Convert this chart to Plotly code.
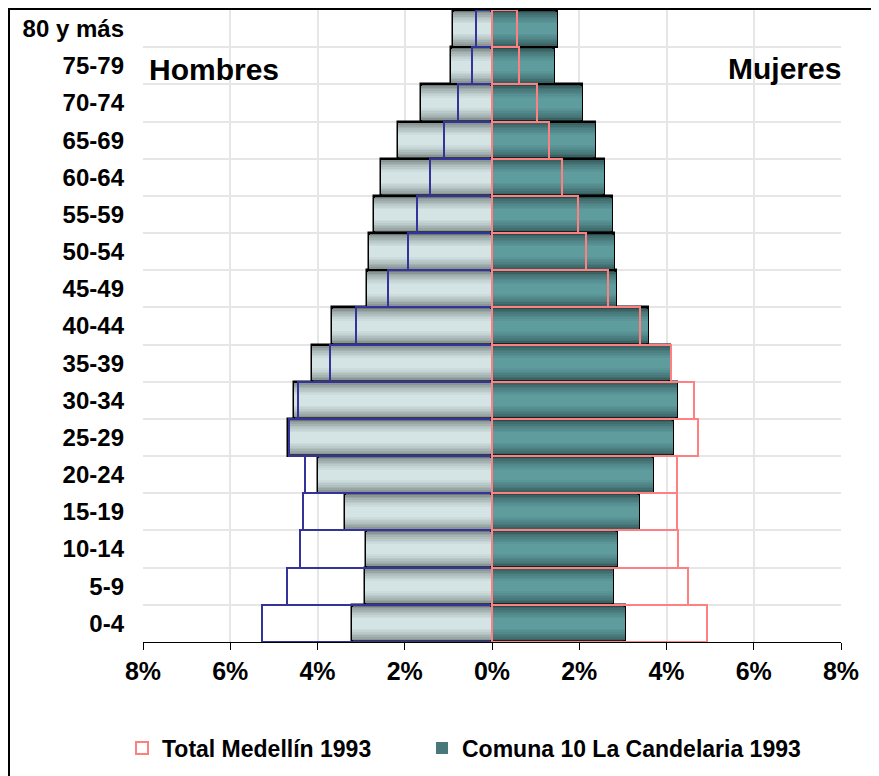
import plotly.graph_objects as go

# ---------------- data (percent of population) ----------------
ages = ["0-4", "5-9", "10-14", "15-19", "20-24", "25-29", "30-34", "35-39",
        "40-44", "45-49", "50-54", "55-59", "60-64", "65-69", "70-74",
        "75-79", "80 y más"]

comuna_hombres = [3.21, 2.92, 2.88, 3.36, 3.99, 4.67, 4.53, 4.13, 3.66,
                  2.86, 2.83, 2.71, 2.55, 2.16, 1.62, 0.95, 0.90]
comuna_mujeres = [3.05, 2.78, 2.87, 3.38, 3.70, 4.15, 4.25, 4.07, 3.57,
                  2.84, 2.80, 2.76, 2.57, 2.35, 2.07, 1.41, 1.50]
medellin_hombres = [5.28, 4.70, 4.41, 4.34, 4.29, 4.65, 4.45, 3.72, 3.12,
                    2.39, 1.93, 1.73, 1.41, 1.09, 0.77, 0.45, 0.36]
medellin_mujeres = [4.93, 4.50, 4.26, 4.24, 4.25, 4.73, 4.64, 4.11, 3.40,
                    2.66, 2.16, 1.96, 1.61, 1.30, 1.02, 0.63, 0.58]

tick_vals = [-8, -6, -4, -2, 0, 2, 4, 6, 8]
tick_text = ["8%", "6%", "4%", "2%", "0%", "2%", "4%", "6%", "8%"]

serie_medellin = "Total Medellín 1993"
serie_comuna = "Comuna 10 La Candelaria 1993"

# ---------------- styling ----------------
# the page body has an 8px margin, so the figure is sized to fit the window
W, H = 871, 768
ML, MR, MT, MB = 135, 38, 2, 134
PW, PH = W - ML - MR, H - MT - MB
FONT = "Liberation Sans, Arial, sans-serif"


def px_x(p):
    return (p - ML) / PW


def px_y(p):
    return (H - MB - p) / PH


def mix(c1, c2, t):
    a = [int(c1[i:i + 2], 16) for i in (1, 3, 5)]
    b = [int(c2[i:i + 2], 16) for i in (1, 3, 5)]
    return "rgb(%d,%d,%d)" % tuple(round(a[k] + (b[k] - a[k]) * t) for k in range(3))


men_edge, men_center = "#6c7676", "#d4e4e4"
wom_edge, wom_center = "#2c4a4b", "#5e9c9e"

neg_comuna_h = [-v for v in comuna_hombres]
neg_medellin_h = [-v for v in medellin_hombres]

fig = go.Figure()

N = 9
for i in range(N):
    f = i / (N - 1)
    width = 1.0 - 0.72 * f
    t = f ** 0.6
    outer = (i == 0)
    line = dict(color="black", width=2.5) if outer else dict(width=0)
    fig.add_trace(go.Bar(
        y=ages, x=neg_comuna_h, orientation="h", width=width,
        marker=dict(color=mix(men_edge, men_center, t), line=line),
        showlegend=False, hoverinfo="skip"))
    fig.add_trace(go.Bar(
        y=ages, x=comuna_mujeres, orientation="h", width=width,
        marker=dict(color=mix(wom_edge, wom_center, t), line=line),
        name=serie_comuna, legend="legend2",
        showlegend=(i == 3), hoverinfo="skip"))

fig.add_trace(go.Bar(
    y=ages, x=neg_medellin_h, orientation="h", width=1.0,
    marker=dict(color="rgba(0,0,0,0)", line=dict(color="#333399", width=2)),
    showlegend=False, hoverinfo="skip"))
fig.add_trace(go.Bar(
    y=ages, x=medellin_mujeres, orientation="h", width=1.0,
    marker=dict(color="rgba(0,0,0,0)", line=dict(color="#ff8080", width=2)),
    name=serie_medellin, legend="legend", showlegend=True, hoverinfo="skip"))

legend_style = dict(orientation="h", xanchor="left", yanchor="middle",
                    font=dict(size=23, weight="bold"),
                    bgcolor="rgba(0,0,0,0)")

fig.update_layout(
    width=W, height=H,
    margin=dict(l=ML, r=MR, t=MT, b=MB, autoexpand=False),
    barmode="overlay", bargap=0,
    paper_bgcolor="white", plot_bgcolor="white",
    font=dict(family=FONT, size=24, color="black", weight="bold"),
    xaxis=dict(range=[-8, 8], tickvals=tick_vals, ticktext=tick_text,
               automargin=False,
               showgrid=True, gridcolor="#e6e6e6", gridwidth=2,
               zeroline=True, zerolinecolor="#5a3a44", zerolinewidth=1,
               showline=True, linecolor="black", linewidth=1,
               ticks="outside", ticklen=7, tickcolor="black", tickwidth=1,
               ticklabelstandoff=0,
               tickfont=dict(size=25, weight="bold")),
    yaxis=dict(type="category", categoryorder="array", categoryarray=ages,
               automargin=False,
               tickson="boundaries", showgrid=True, gridcolor="#e6e6e6",
               gridwidth=2, ticks="", showline=False, ticklabelstandoff=18,
               tickfont=dict(size=24, weight="bold")),
    legend=dict(x=px_x(114), y=px_y(740), **legend_style),
    legend2=dict(x=px_x(414), y=px_y(740), **legend_style),
    annotations=[
        dict(text="Hombres", x=px_x(139), y=px_y(62), xref="paper", yref="paper",
             xanchor="left", yanchor="middle", showarrow=False,
             font=dict(size=30, weight="bold")),
        dict(text="Mujeres", x=px_x(835), y=px_y(60), xref="paper", yref="paper",
             xanchor="right", yanchor="middle", showarrow=False,
             font=dict(size=30, weight="bold")),
    ],
    shapes=[dict(type="rect", xref="paper", yref="paper",
                 x0=px_x(0.5), x1=px_x(865), y0=px_y(775), y1=px_y(0.5),
                 line=dict(color="black", width=3), fillcolor="rgba(0,0,0,0)",
                 layer="above")],
)

fig.write_html("out.html")
